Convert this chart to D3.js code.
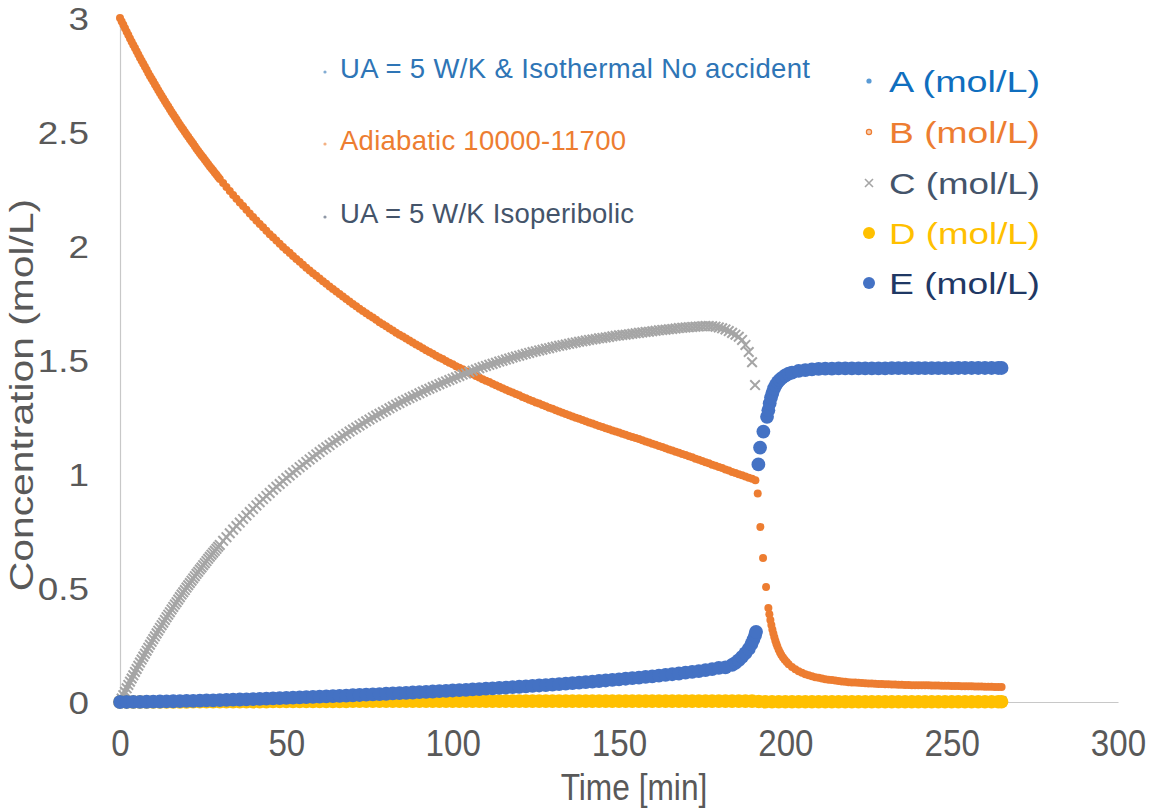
<!DOCTYPE html>
<html><head><meta charset="utf-8">
<script src="https://cdn.jsdelivr.net/npm/d3@7/dist/d3.min.js"></script>
<style>html,body{margin:0;padding:0;background:#fff;}svg{display:block;}</style>
</head><body><svg id="chart" width="1152" height="809"></svg>
<script>
// ---------------- data ----------------
const xTicks = [0, 50, 100, 150, 200, 250, 300];
const yTicks = [0, 0.5, 1, 1.5, 2, 2.5, 3];
const yTickLabels = ["0", "0.5", "1", "1.5", "2", "2.5", "3"];
const xTitle = "Time [min]";
const yTitle = "Concentration (mol/L)";
const legendNames = ["A (mol/L)", "B (mol/L)", "C (mol/L)", "D (mol/L)", "E (mol/L)"];
const notes = ["UA = 5 W/K & Isothermal No accident", "Adiabatic 10000-11700", "UA = 5 W/K Isoperibolic"];

// B (and A, which coincides with B) : time [min]
const timeB = [0,1,2,3,4,5,6,7,8,9,10,11,12,13,14,15,16,17,18,19,20,21,22,23,24,25,26,27,28,29,30,31,32,33,34,35,36,37,38,39,40,41,42,43,44,45,46,47,48,49,50,51,52,53,54,55,56,57,58,59,60,61,62,63,64,65,66,67,68,69,70,71,72,73,74,75,76,77,78,79,80,81,82,83,84,85,86,87,88,89,90,91,92,93,94,95,96,97,98,99,100,101,102,103,104,105,106,107,108,109,110,111,112,113,114,115,116,117,118,119,120,121,122,123,124,125,126,127,128,129,130,131,132,133,134,135,136,137,138,139,140,141,142,143,144,145,146,147,148,149,150,151,152,153,154,155,156,157,158,159,160,161,162,163,164,165,166,167,168,169,170,171,172,173,174,175,176,177,178,179,180,181,182,183,184,185,186,187,188,189,190,191,
191.7,192.5,193.3,194.2,194.9,195.2,195.5,195.8,196.1,196.4,196.7,197,197.3,197.6,198,198.4,198.8,199.3,199.8,200.4,201,
202,203,204,205,206,207,208,209,210,211,212,213,214,215,216,217,218,219,220,221,222,223,224,225,226,227,228,229,230,231,232,233,234,235,236,237,238,239,240,241,242,243,244,245,246,247,248,249,250,251,252,253,254,255,256,257,258,259,260,261,262,263,264,265,
0.5,1.5,2.5,3.5,4.5,5.5,6.5,7.5,8.5,9.5,10.5,11.5,12.5,13.5,14.5,15.5,16.5,17.5,18.5,19.5,20.5,21.5,22.5,23.5,24.5,25.5,26.5,27.5,28.5,29.5];
const concB = [3.000,2.970,2.940,2.910,2.882,2.854,2.826,2.799,2.773,2.746,2.721,2.696,2.671,2.647,2.623,2.600,2.577,2.555,2.532,2.511,2.489,2.468,2.448,2.427,2.407,2.388,2.368,2.349,2.331,2.312,2.294,2.276,2.259,2.241,2.224,2.207,2.191,2.175,2.159,2.143,2.127,2.112,2.097,2.082,2.067,2.052,2.038,2.024,2.010,1.996,1.983,1.970,1.956,1.943,1.931,1.918,1.905,1.893,1.881,1.869,1.857,1.845,1.834,1.822,1.811,1.800,1.789,1.778,1.767,1.757,1.746,1.736,1.725,1.715,1.705,1.695,1.686,1.676,1.666,1.657,1.648,1.638,1.629,1.620,1.611,1.603,1.594,1.585,1.577,1.568,1.560,1.552,1.543,1.535,1.527,1.519,1.511,1.504,1.496,1.488,1.481,1.473,1.466,1.459,1.451,1.444,1.437,1.430,1.423,1.416,1.409,1.403,1.396,1.389,1.383,1.376,1.370,1.363,1.357,1.351,1.345,1.338,1.332,1.326,1.320,1.314,1.309,1.303,1.297,1.291,1.286,1.280,1.274,1.269,1.263,1.258,1.252,1.247,1.242,1.237,1.231,1.226,1.221,1.216,1.211,1.206,1.201,1.196,1.191,1.186,1.182,1.177,1.172,1.167,1.162,1.158,1.153,1.148,1.143,1.138,1.133,1.128,1.123,1.118,1.113,1.108,1.103,1.098,1.093,1.088,1.083,1.078,1.073,1.067,1.062,1.057,1.052,1.047,1.041,1.036,1.031,1.026,1.020,1.015,1.009,1.004,0.999,0.994,0.989,0.984,0.979,0.973,
0.915,0.768,0.632,0.504,0.412,0.385,0.360,0.338,0.318,0.300,0.284,0.269,0.256,0.243,0.229,0.217,0.206,0.195,0.185,0.175,0.166,
0.154,0.144,0.135,0.128,0.122,0.117,0.113,0.109,0.106,0.103,0.100,0.098,0.096,0.094,0.092,0.090,0.089,0.087,0.086,0.085,0.084,0.083,0.082,0.081,0.081,0.080,0.079,0.079,0.078,0.078,0.077,0.077,0.076,0.076,0.075,0.075,0.074,0.074,0.074,0.073,0.073,0.073,0.072,0.072,0.072,0.071,0.071,0.071,0.070,0.070,0.070,0.069,0.069,0.069,0.069,0.068,0.068,0.068,0.067,0.067,0.067,0.066,0.066,0.066,
2.985,2.955,2.925,2.896,2.868,2.840,2.813,2.786,2.759,2.734,2.708,2.683,2.659,2.635,2.612,2.588,2.566,2.543,2.521,2.500,2.479,2.458,2.437,2.417,2.397,2.378,2.359,2.340,2.321,2.303];

// C
const timeC = [0,1,2,3,4,5,6,7,8,9,10,11,12,13,14,15,16,17,18,19,20,21,22,23,24,25,26,27,28,29,30,31,32,33,34,35,36,37,38,39,40,41,42,43,44,45,46,47,48,49,50,51,52,53,54,55,56,57,58,59,60,61,62,63,64,65,66,67,68,69,70,71,72,73,74,75,76,77,78,79,80,81,82,83,84,85,86,87,88,89,90,91,92,93,94,95,96,97,98,99,100,101,102,103,104,105,106,107,108,109,110,111,112,113,114,115,116,117,118,119,120,121,122,123,124,125,126,127,128,129,130,131,132,133,134,135,136,137,138,139,140,141,142,143,144,145,146,147,148,149,150,151,152,153,154,155,156,157,158,159,160,161,162,163,164,165,166,167,168,169,170,171,172,173,174,175,176,177,178,179,180,181,182,183,184,185,186,187,188,189,190,190.9,
193,200,210,220,230,240,250,260,265,
0.5,1.5,2.5,3.5,4.5,5.5,6.5,7.5,8.5,9.5,10.5,11.5,12.5,13.5,14.5,15.5,16.5,17.5,18.5,19.5,20.5,21.5,22.5,23.5,24.5,25.5,26.5,27.5,28.5,29.5];
const concC = [0.000,0.030,0.060,0.089,0.117,0.145,0.173,0.199,0.225,0.251,0.276,0.301,0.325,0.348,0.372,0.394,0.417,0.438,0.460,0.481,0.502,0.522,0.542,0.562,0.581,0.600,0.618,0.637,0.655,0.672,0.689,0.707,0.723,0.740,0.756,0.772,0.787,0.803,0.818,0.833,0.847,0.862,0.876,0.890,0.904,0.917,0.931,0.944,0.956,0.969,0.982,0.994,1.006,1.018,1.030,1.041,1.053,1.064,1.075,1.086,1.096,1.107,1.117,1.127,1.138,1.147,1.157,1.167,1.177,1.186,1.195,1.204,1.213,1.222,1.231,1.239,1.248,1.256,1.264,1.272,1.280,1.288,1.296,1.304,1.311,1.319,1.326,1.333,1.340,1.347,1.354,1.361,1.368,1.374,1.381,1.387,1.394,1.400,1.406,1.412,1.418,1.424,1.430,1.436,1.441,1.447,1.453,1.458,1.464,1.469,1.474,1.479,1.483,1.488,1.493,1.497,1.502,1.506,1.511,1.515,1.519,1.523,1.527,1.531,1.535,1.538,1.542,1.545,1.549,1.552,1.556,1.559,1.562,1.565,1.568,1.571,1.574,1.577,1.580,1.582,1.585,1.588,1.590,1.592,1.595,1.597,1.599,1.601,1.604,1.606,1.608,1.610,1.611,1.613,1.615,1.617,1.619,1.621,1.623,1.624,1.626,1.628,1.630,1.632,1.633,1.635,1.636,1.638,1.640,1.641,1.643,1.644,1.645,1.646,1.647,1.648,1.649,1.649,1.648,1.646,1.643,1.639,1.634,1.627,1.619,1.611,1.602,1.588,1.566,1.535,1.490,1.390,
0.004,0.003,0.003,0.003,0.003,0.003,0.003,0.003,0.003,
0.015,0.045,0.075,0.103,0.132,0.159,0.186,0.212,0.238,0.264,0.288,0.313,0.337,0.360,0.383,0.406,0.428,0.449,0.471,0.491,0.512,0.532,0.552,0.571,0.590,0.609,0.628,0.646,0.663,0.681];

// D
const timeD = [0,2,4,6,8,10,12,14,16,18,20,22,24,26,28,30,32,34,36,38,40,42,44,46,48,50,52,54,56,58,60,62,64,66,68,70,72,74,76,78,80,82,84,86,88,90,92,94,96,98,100,102,104,106,108,110,112,114,116,118,120,122,124,126,128,130,132,134,136,138,140,142,144,146,148,150,152,154,156,158,160,162,164,166,168,170,172,174,176,178,180,182,184,186,188,190,192,194,196,198,200,202,204,206,208,210,212,214,216,218,220,222,224,226,228,230,232,234,236,238,240,242,244,246,248,250,252,254,256,258,260,262,264,265];
const concD = [0.000,0.000,0.000,0.000,0.000,0.000,0.000,0.000,0.000,0.000,0.000,0.001,0.001,0.001,0.001,0.001,0.001,0.001,0.001,0.001,0.001,0.001,0.001,0.002,0.002,0.002,0.002,0.002,0.002,0.002,0.002,0.002,0.002,0.002,0.002,0.003,0.003,0.003,0.003,0.003,0.003,0.003,0.003,0.003,0.003,0.003,0.003,0.003,0.003,0.003,0.004,0.004,0.004,0.004,0.004,0.004,0.004,0.004,0.004,0.004,0.004,0.004,0.004,0.004,0.004,0.004,0.004,0.004,0.004,0.004,0.004,0.004,0.004,0.004,0.004,0.004,0.004,0.004,0.004,0.004,0.004,0.004,0.004,0.004,0.004,0.004,0.004,0.004,0.004,0.004,0.004,0.004,0.004,0.004,0.004,0.004,0.002,0.001,0.001,0.001,0.001,0.001,0.001,0.001,0.001,0.001,0.001,0.001,0.001,0.001,0.001,0.001,0.001,0.001,0.001,0.001,0.001,0.001,0.001,0.001,0.001,0.001,0.001,0.001,0.001,0.001,0.001,0.001,0.001,0.001,0.001,0.001,0.001,0.001];

// E
const timeE = [0,2,4,6,8,10,12,14,16,18,20,22,24,26,28,30,32,34,36,38,40,42,44,46,48,50,52,54,56,58,60,62,64,66,68,70,72,74,76,78,80,82,84,86,88,90,92,94,96,98,100,102,104,106,108,110,112,114,116,118,120,122,124,126,128,130,132,134,136,138,140,142,144,146,148,150,152,154,156,158,160,162,164,166,168,170,172,174,176,178,180,182,184,185,186,187,188,189,189.8,190.4,190.9,191.2,
191.9,192.4,193.4,194.5,194.9,195.3,195.7,196.1,196.6,197.1,197.7,198.3,199,200,201,202,204,206,208,210,212,214,216,218,220,222,224,226,228,230,232,234,236,238,240,242,244,246,248,250,252,254,256,258,260,262,264,265];
const concE = [0.0000,0.0001,0.0004,0.0007,0.0011,0.0016,0.0021,0.0026,0.0032,0.0039,0.0045,0.0052,0.0059,0.0067,0.0075,0.0083,0.0091,0.0100,0.0109,0.0118,0.0128,0.0137,0.0147,0.0157,0.0168,0.0178,0.0189,0.0200,0.0211,0.0222,0.0234,0.0246,0.0258,0.0270,0.0282,0.0295,0.0308,0.0321,0.0334,0.0347,0.0361,0.0374,0.0388,0.0402,0.0416,0.0431,0.0445,0.0460,0.0475,0.0490,0.0505,0.0520,0.0536,0.0552,0.0567,0.0583,0.0600,0.0616,0.0633,0.0650,0.0668,0.0686,0.0705,0.0724,0.0744,0.0764,0.0785,0.0806,0.0828,0.0850,0.0873,0.0896,0.0920,0.0944,0.0969,0.0994,0.1020,0.1046,0.1073,0.1100,0.1128,0.1157,0.1187,0.1218,0.1250,0.1284,0.1320,0.1358,0.1399,0.1444,0.1494,0.1520,0.1630,0.1720,0.1840,0.1980,0.2140,0.2330,0.2540,0.2740,0.2930,0.3080,
1.042,1.116,1.186,1.251,1.280,1.310,1.335,1.355,1.375,1.390,1.403,1.413,1.422,1.432,1.440,1.445,
1.452,1.456,1.459,1.461,1.462,1.462,1.463,1.463,1.463,1.463,1.463,1.463,1.463,1.463,1.464,1.464,1.464,1.464,1.464,1.464,1.464,1.464,1.464,1.464,1.465,1.465,1.465,1.465,1.465,1.465,1.465,1.465];

// ---------------- drawing ----------------
const svg = d3.select("#chart");
const x = d3.scaleLinear().domain([0, 300]).range([120, 1118]);
const y = d3.scaleLinear().domain([0, 3]).range([702, 18]);
const FONT = "'Liberation Sans', Arial, sans-serif";

// stretch a text element horizontally by factor k (keeps anchor)
function stretch(sel, k) {
  sel.each(function () {
    const w = this.getComputedTextLength();
    d3.select(this).attr("textLength", w * k).attr("lengthAdjust", "spacingAndGlyphs");
  });
}

// axes
const gx = svg.append("g").attr("transform", `translate(0,${y(0)})`)
  .call(d3.axisBottom(x).tickValues(xTicks).tickSize(0).tickPadding(28).tickFormat(d3.format("d")));
const gy = svg.append("g").attr("transform", `translate(${x(0)},0)`)
  .call(d3.axisLeft(y).tickValues(yTicks).tickSize(0).tickPadding(31).tickFormat((d, i) => yTickLabels[i]));
[gx, gy].forEach(g => {
  g.select(".domain").attr("stroke", "#C8C8C8").attr("stroke-width", 1.2);
  g.selectAll("text").attr("fill", "#595959").style("font-family", FONT);
});
gx.selectAll("text").style("font-size", "36px").attr("dy", "0.71em").call(stretch, 0.92);
gy.selectAll("text").style("font-size", "32px").attr("dy", "0.35em").call(stretch, 1.15);

svg.append("text").attr("x", 634).attr("y", 800).attr("text-anchor", "middle")
  .style("font-family", FONT).style("font-size", "36px").attr("fill", "#595959").text(xTitle).call(stretch, 0.88);
svg.append("text").attr("transform", "translate(33,395) rotate(-90)").attr("text-anchor", "middle")
  .style("font-family", FONT).style("font-size", "34px").attr("fill", "#595959").text(yTitle).call(stretch, 1.2);

// series
const mk = (t, v) => t.map((d, i) => ({ t: d, v: v[i] }));
const dataA = mk(timeB, concB), dataB = mk(timeB, concB), dataC = mk(timeC, concC),
      dataD = mk(timeD, concD), dataE = mk(timeE, concE);

const plot = svg.append("g");
plot.append("g").selectAll("circle").data(dataA).join("circle")
  .attr("cx", d => x(d.t)).attr("cy", d => y(d.v)).attr("r", 2).attr("fill", "#5B9BD5");
plot.append("g").selectAll("circle").data(dataB).join("circle")
  .attr("cx", d => x(d.t)).attr("cy", d => y(d.v)).attr("r", 4).attr("fill", "#ED7D31");
const xs = 4.8;
plot.append("g").selectAll("path").data(dataC).join("path")
  .attr("d", d => { const cx = x(d.t), cy = y(d.v);
    return `M${cx - xs},${cy - xs}L${cx + xs},${cy + xs}M${cx - xs},${cy + xs}L${cx + xs},${cy - xs}`; })
  .attr("stroke", "#A5A5A5").attr("stroke-width", 2).attr("fill", "none");
plot.append("g").selectAll("circle").data(dataD).join("circle")
  .attr("cx", d => x(d.t)).attr("cy", d => y(d.v)).attr("r", 6.8).attr("fill", "#FFC000");
plot.append("g").selectAll("circle").data(dataE).join("circle")
  .attr("cx", d => x(d.t)).attr("cy", d => y(d.v)).attr("r", 6.9).attr("fill", "#4472C4");

// notes (annotation labels)
const noteColors = ["#2E75B6", "#ED7D31", "#44546A"];
const noteY = [78, 150, 223];
const noteW = [470, 286, 294];
notes.forEach((s, i) => {
  svg.append("circle").attr("cx", 325).attr("cy", noteY[i] - 6).attr("r", 1.6).attr("fill", noteColors[i]).attr("opacity", 0.6);
  svg.append("text").attr("x", 340).attr("y", noteY[i]).style("font-family", FONT)
    .style("font-size", "27.5px").attr("textLength", noteW[i]).attr("lengthAdjust", "spacing")
    .attr("fill", noteColors[i]).text(s);
});

// legend
const legColors = ["#0F6EBE", "#ED7D31", "#44546A", "#FFC000", "#1F3864"];
const legY = [92, 143, 194, 244, 294];
legendNames.forEach((s, i) => {
  const cy = legY[i] - 11;
  if (i === 0) svg.append("circle").attr("cx", 869).attr("cy", cy).attr("r", 2.6).attr("fill", "#5B9BD5");
  if (i === 1) svg.append("circle").attr("cx", 869).attr("cy", cy).attr("r", 2.6).attr("fill", "#F8CBAD").attr("stroke", "#ED7D31").attr("stroke-width", 1.2);
  if (i === 2) svg.append("path").attr("d", `M865,${cy - 4}L873,${cy + 4}M865,${cy + 4}L873,${cy - 4}`).attr("stroke", "#A5A5A5").attr("stroke-width", 1.6);
  if (i === 3) svg.append("circle").attr("cx", 869).attr("cy", cy).attr("r", 6).attr("fill", "#FFC000");
  if (i === 4) svg.append("circle").attr("cx", 869).attr("cy", cy).attr("r", 6).attr("fill", "#4472C4");
  svg.append("text").attr("x", 889).attr("y", legY[i]).style("font-family", FONT)
    .style("font-size", "30px").attr("textLength", 151).attr("lengthAdjust", "spacingAndGlyphs")
    .attr("fill", legColors[i]).text(s);
});
</script></body></html>
